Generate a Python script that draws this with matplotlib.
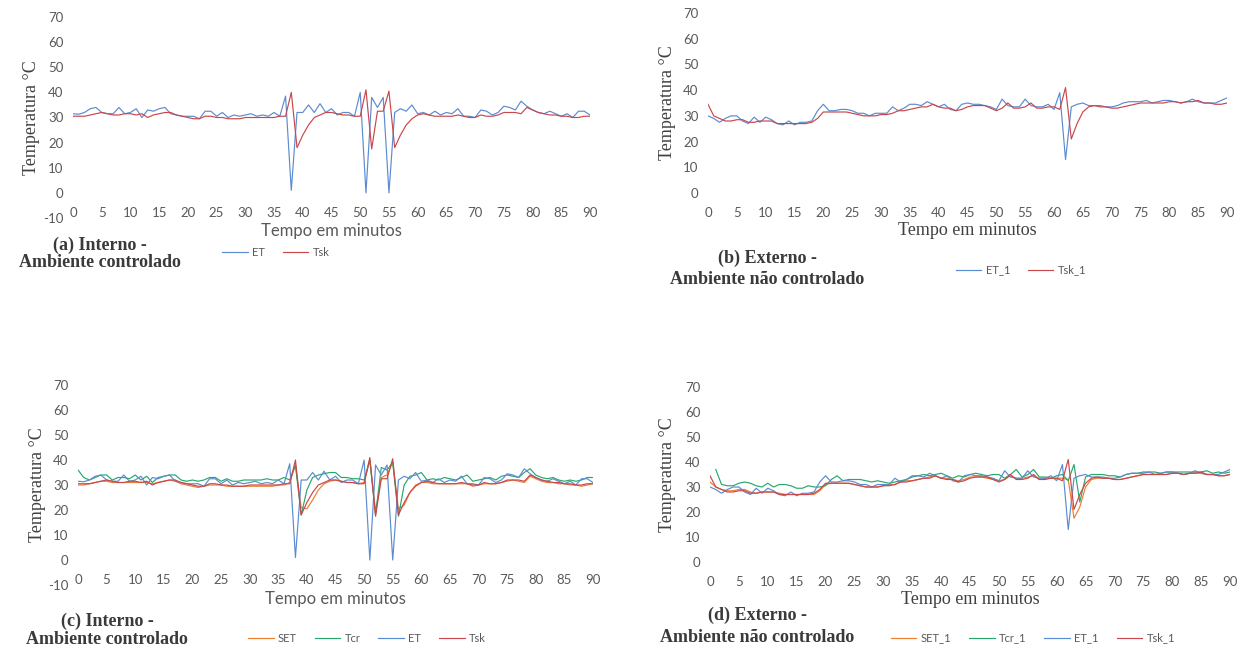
import numpy as np
import matplotlib.pyplot as plt

plt.rcParams['axes.unicode_minus'] = False

# minute-by-minute readings, 0..90
minutes = list(range(91))

# interno - ambiente controlado
et = [31.5, 31.3, 32, 33.5, 34, 32, 31.5, 31.5, 34, 31.5,
      32, 33.5, 30, 33, 32.5, 33.5, 34, 31.5, 31, 30.5,
      30.5, 30.5, 29.5, 32.5, 32.5, 30.5, 32, 30, 31, 30.5,
      31, 31.5, 30.5, 31, 30.5, 32, 30.5, 38.5, 1, 32,
      32, 35, 32, 35.5, 32, 33.5, 31, 32, 32, 30.5,
      40, 0, 38, 34, 38, 0, 32, 33.5, 32.5, 35,
      31.5, 32, 31, 32.5, 31, 32, 31.5, 33.5, 30.5, 30.5,
      30, 33, 32.5, 31, 32, 34.5, 34, 33, 36.5, 34.5,
      33, 32, 31.5, 32.5, 31.5, 30.5, 31.5, 30, 32.5, 32.5,
      31]
tsk = [30.5, 30.5, 30.5, 31, 31.5, 32, 31.5, 31, 31, 31.5,
       31.5, 31, 31.5, 30, 31, 31.5, 32, 32, 31, 30.5,
       30, 29.5, 29.5, 30.5, 30.5, 30, 30, 29.5, 29.5, 29.5,
       30, 30, 30, 30, 30, 30, 30.5, 30.5, 40, 18,
       23, 27, 30, 31, 32, 32, 31.5, 31, 31, 30.5,
       30.5, 41, 17.5, 32.5, 32.5, 40.5, 18, 23, 27, 29.5,
       31, 31.5, 31, 30.5, 30.5, 30.5, 30.5, 31, 30.5, 30,
       30, 31, 30.5, 30.5, 31, 32, 32, 32, 31.5, 34,
       33, 32, 31.5, 31, 31, 30.5, 30.5, 30, 30, 30.5,
       30.5]
set_int = [30, 30, 30.5, 31, 31.5, 31.5, 31, 31, 31, 31,
           31, 31, 31, 30.5, 31, 31.5, 32, 31.5, 30.5, 30,
           29.5, 29, 29.5, 30, 30, 30, 29.5, 29.5, 29.5, 29.5,
           29.5, 29.5, 29.5, 29.5, 29.5, 30, 30, 31, 38, 21,
           20.5, 24, 28, 30.5, 31.5, 32, 31.5, 31, 31, 30.5,
           31, 40, 19.5, 33, 34, 39, 20.5, 22, 27, 30,
           31, 31, 30.5, 30.5, 30.5, 30.5, 30.5, 30.5, 30.5, 29.5,
           30, 30.5, 30.5, 30.5, 31, 31.5, 32, 31.5, 31, 33.5,
           32.5, 31.5, 31, 31, 30.5, 30.5, 30, 30, 29.5, 30,
           30.5]
tcr = [36, 33, 32, 33, 34, 34, 32, 33, 33, 32.5,
       34, 32, 33.5, 31, 33, 33.5, 34, 34, 32, 31.5,
       32, 31.5, 32, 33, 33, 31.5, 32.5, 31.5, 31.5, 32,
       32, 32, 32, 32.5, 32, 32, 33, 32, 38, 18,
       28, 33, 34, 34.5, 35, 35, 33, 33, 32.5, 32.5,
       32, 40, 18, 37, 36, 39, 17.5, 30, 33.5, 34,
       35, 32, 32.5, 32, 33, 32.5, 32, 33, 34, 31.5,
       32, 32.5, 33, 32, 33.5, 34, 33.5, 33, 35, 36.5,
       34, 33, 32.5, 33, 32, 31.5, 32, 31.5, 32, 33,
       33]

# externo - ambiente nao controlado
et_1 = [30, 29, 27.5, 29, 30, 30, 28, 27, 29.5, 27.5,
        29.5, 28.5, 27, 26.5, 28, 26.5, 27.5, 27.5, 28, 32,
        34.5, 32, 32, 32.5, 32.5, 32, 31, 31, 30, 31,
        31, 31, 33.5, 32, 33, 34.5, 34.5, 34, 35.5, 34.5,
        33.5, 34.5, 32.5, 32, 34.5, 35, 34.5, 34.5, 34, 33.5,
        32.5, 36.5, 34, 33.5, 33.5, 36.5, 34, 33.5, 33.5, 34.5,
        32.5, 39, 13, 33.5, 34.5, 35, 34, 34, 34, 33.5,
        33.5, 34, 35, 35.5, 35.5, 35.5, 36, 35, 35.5, 36,
        36, 35.5, 35, 35.5, 36.5, 35.5, 35, 35, 35, 36,
        37]
tsk_1 = [34.5, 30, 29, 28, 28, 28.5, 28.5, 27.5, 27.5, 28,
         28, 28, 27, 27, 27, 27, 27, 27, 27.5, 29,
         31.5, 31.5, 31.5, 31.5, 31.5, 31, 30.5, 30, 30, 30,
         30.5, 30.5, 31, 32, 32, 32.5, 33, 33.5, 33.5, 34.5,
         33.5, 33, 33, 32, 32.5, 33.5, 34, 34, 34, 33,
         32, 33, 35, 33, 33, 33.5, 35, 33, 33, 33.5,
         33.5, 32.5, 41, 21, 27, 31.5, 33.5, 34, 33.5, 33.5,
         33, 33, 33.5, 34, 34.5, 35, 35, 35, 35, 35,
         35.5, 35.5, 35, 35.5, 35.5, 36, 35, 35, 34.5, 34.5,
         35]
set_1 = [32, 30, 29, 28.5, 28.5, 29, 29, 28, 27.5, 28,
         28, 28, 27.5, 27, 27, 27, 27, 27, 27, 28.5,
         31, 31.5, 31.5, 31.5, 31.5, 31, 30.5, 30, 30, 30,
         30.5, 31, 31, 32, 32.5, 32.5, 33, 33.5, 34, 34.5,
         33.5, 33.5, 33, 32.5, 33, 34, 34, 34, 33.5, 33,
         32.5, 33, 34.5, 33.5, 33.5, 34, 34.5, 33, 33.5, 33.5,
         33.5, 33.5, 33, 17.5, 22, 30, 33, 33.5, 33.5, 33.5,
         33, 33, 33.5, 34, 34.5, 35, 35, 35, 35, 35,
         35.5, 35.5, 35, 35.5, 35.5, 35.5, 35, 35, 34.5, 34.5,
         35]
tcr_1 = [np.nan, 37, 31, 30.5, 30.5, 31.5, 32, 31.5, 30.5, 30,
         31.5, 30, 31, 31, 30.5, 29.5, 29.5, 30.5, 30, 30,
         30.5, 33, 34.5, 32.5, 33, 33, 33, 32.5, 32, 32.5,
         32, 31.5, 32, 32.5, 33, 34, 34.5, 35, 34.5, 35,
         35.5, 34.5, 33.5, 34.5, 34, 35, 35.5, 35, 34.5, 35,
         35, 33.5, 35, 37, 34, 35, 37, 34, 34, 33.5,
         34.5, 35, 32.5, 39, 24, 34, 35, 35, 35, 34.5,
         34.5, 34, 35, 35.5, 35.5, 36, 36, 36, 35.5, 36,
         36, 36, 36, 36, 36, 36, 36.5, 35.5, 36, 35.5,
         36]

C_ET = '#5b8bd0'
C_TSK = '#c9474a'
C_SET = '#ed7d31'
C_TCR = '#27a86a'
GREY = '#595959'
SANS = 'Lato'
SERIF = 'Liberation Serif'

W, H = 1240, 647
fig = plt.figure(figsize=(W / 100, H / 100), dpi=100)


def px_axes(x0, x1, ytop, ybot):
    # pixel box of the plot area -> figure fraction
    return fig.add_axes([x0 / W, 1 - ybot / H, (x1 - x0) / W, (ybot - ytop) / H])


def style(ax, ymin, xlab_font, ylab_x, xlab_y):
    ax.set_xlim(0, 90)
    ax.set_ylim(ymin, 70)
    ax.set_xticks(range(0, 91, 5))
    ax.set_yticks(range(ymin, 71, 10))
    for s in ax.spines.values():
        s.set_visible(False)
    ax.spines['bottom'].set_position(('data', 0))
    ax.tick_params(length=0, colors=GREY, labelsize=9.5)
    ax.tick_params(axis='x', pad=10)
    ax.tick_params(axis='y', pad=7)
    for lab in ax.get_xticklabels() + ax.get_yticklabels():
        lab.set_fontfamily(SANS)
    ax.set_ylabel('Temperatura °C', fontfamily=SERIF, fontsize=13, color='#404040')
    ax.yaxis.set_label_coords(ylab_x, 0.5)
    ax.yaxis.label.set_va('center')
    if xlab_font == 'serif':
        ax.set_xlabel('Tempo em minutos', fontfamily=SERIF, fontsize=13, color='#404040')
    else:
        ax.set_xlabel('Tempo em minutos', fontfamily=SANS, fontsize=12, color=GREY)
    ax.xaxis.set_label_coords(0.5, xlab_y)
    ax.xaxis.label.set_va('center')


def caption(x, y1, y2, line1, line2):
    kw = dict(ha='center', va='center', fontfamily=SERIF, fontweight='bold',
              fontsize=13, color='#3a3a3a')
    fig.text(x / W, 1 - y1 / H, line1, **kw)
    fig.text(x / W, 1 - y2 / H, line2, **kw)


def legend(handles, x, y):
    leg = fig.legend(handles=handles, loc='center', bbox_to_anchor=(x / W, 1 - y / H),
                     ncol=len(handles), frameon=False, handlelength=2.3,
                     handletextpad=0.4, columnspacing=1.6,
                     prop={'family': SANS, 'size': 8})
    for t in leg.get_texts():
        t.set_color(GREY)


lw = 0.85

# (a)
ax_a = px_axes(73, 590, 17, 218)
la1, = ax_a.plot(minutes, et, color=C_ET, lw=lw, label='ET')
la2, = ax_a.plot(minutes, tsk, color=C_TSK, lw=lw, label='Tsk')
style(ax_a, -10, 'sans', (32 - 73) / 517, -0.065)
caption(100, 245, 263, '(a) Interno -', 'Ambiente controlado')
legend([la1, la2], 276, 252)

# (b)
ax_b = px_axes(708, 1227, 13, 193)
lb1, = ax_b.plot(minutes, et_1, color=C_ET, lw=lw, label='ET_1')
lb2, = ax_b.plot(minutes, tsk_1, color=C_TSK, lw=lw, label='Tsk_1')
style(ax_b, 0, 'serif', (667 - 708) / 519, -0.206)
caption(767, 258, 279, '(b) Externo -', 'Ambiente não controlado')
legend([lb1, lb2], 1021, 270)

# (c)
ax_c = px_axes(78, 593, 385, 585)
lc1, = ax_c.plot(minutes, set_int, color=C_SET, lw=lw, label='SET')
lc2, = ax_c.plot(minutes, tcr, color=C_TCR, lw=lw, label='Tcr')
lc3, = ax_c.plot(minutes, et, color=C_ET, lw=lw, label='ET')
lc4, = ax_c.plot(minutes, tsk, color=C_TSK, lw=lw, label='Tsk')
style(ax_c, -10, 'sans', (38 - 78) / 515, -0.07)
caption(107, 621, 639, '(c) Interno -', 'Ambiente controlado')
legend([lc1, lc2, lc3, lc4], 367, 638)

# (d)
ax_d = px_axes(710, 1230, 387, 562)
ld1, = ax_d.plot(minutes, set_1, color=C_SET, lw=lw, label='SET_1')
ld2, = ax_d.plot(minutes, tcr_1, color=C_TCR, lw=lw, label='Tcr_1')
ld3, = ax_d.plot(minutes, et_1, color=C_ET, lw=lw, label='ET_1')
ld4, = ax_d.plot(minutes, tsk_1, color=C_TSK, lw=lw, label='Tsk_1')
style(ax_d, 0, 'serif', (667 - 710) / 520, -0.217)
caption(757, 615, 637, '(d) Externo -', 'Ambiente não controlado')
legend([ld1, ld2, ld3, ld4], 1033, 638)

fig.savefig('out.png', dpi=100, facecolor='white')
